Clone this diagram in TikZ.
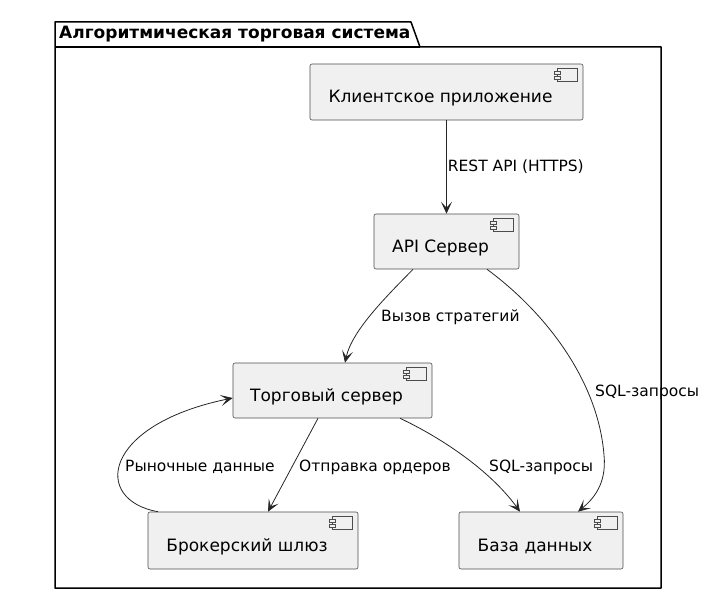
\documentclass[tikz,border=0pt]{standalone}
\usepackage{fontspec}
\setmainfont{DejaVu Sans}
\usetikzlibrary{arrows.meta}

\begin{document}
\begin{tikzpicture}[x=1pt, y=-1pt,
    comp/.style={draw=black!70, fill=black!6, line width=0.6pt, rounded corners=2pt,
        font=\fontsize{17}{19}\selectfont, text height=22pt, text depth=0pt,
        execute at end node=\hspace*{12pt}},
    flow/.style={draw=black!85, line width=0.8pt, -{Stealth[length=12pt, width=11pt, inset=6pt]}},
    lbl/.style={font=\fontsize{15.5}{17}\selectfont, inner sep=1pt}]
    \useasboundingbox (0,0) rectangle (726,607);

    % Package frame
    \draw[line width=1.5pt, line join=round] (55,588) -- (55,22) -- (411,22) -- (420,47)
        -- (661,47) -- (661,588) -- cycle;
    \draw[line width=1.2pt] (55,47) -- (420,47);
    \node[anchor=west, inner sep=0pt, font=\bfseries\fontsize{17}{19}\selectfont] (pkgtitle)
        at (59,34.5) {Алгоритмическая торговая система};

    % Components
    \node[comp, minimum width=273pt, minimum height=56pt] (client) at (446.5,92) {Клиентское приложение};
    \node[comp, minimum width=145pt, minimum height=55pt] (api) at (446.5,241.5) {API Сервер};
    \node[comp, minimum width=199pt, minimum height=55pt] (trade) at (332.5,390.5) {Торговый сервер};
    \node[comp, minimum width=210pt, minimum height=57pt] (broker) at (253,540.5) {Брокерский шлюз};
    \node[comp, minimum width=164pt, minimum height=57pt] (db) at (541,540.5) {База данных};

    % Component icons
    \foreach \n in {client,api,trade,broker,db} {
        \begin{scope}[shift={(\n.north east)}, draw=black!70, line width=0.5pt]
            \draw[fill=black!6] (-26,5) rectangle (-6,18);
            \draw[fill=black!6] (-29,7.5) rectangle (-23,10.5);
            \draw[fill=black!6] (-29,12.5) rectangle (-23,15.5);
        \end{scope}
    }

    % Connectors
    \draw[flow] (client) -- (api) node[lbl, midway, anchor=west] {REST API (HTTPS)};

    \draw[flow] ([xshift=-33.5pt]api.south) .. controls (388,295) and (352,330) .. ([xshift=12.5pt]trade.north);
    \node[lbl, anchor=west] (lblcall) at (380,317) {Вызов стратегий};

    \draw[flow] ([xshift=40.5pt]api.south) .. controls (545,312) and (598,380) .. (604,455)
        .. controls (607,485) and (592,500) .. ([xshift=37pt]db.north);
    \node[lbl, anchor=west] (lblsqla) at (594,392) {SQL-запросы};

    \draw[flow] ([xshift=-14.5pt]trade.south) -- ([xshift=15pt]broker.north);
    \node[lbl, anchor=west] (lblorder) at (298,467) {Отправка ордеров};

    \draw[flow] ([xshift=67.5pt]trade.south) .. controls (440,437) and (490,470) .. ([xshift=-21pt]db.north);
    \node[lbl, anchor=west] (lblsqlb) at (488,467) {SQL-запросы};

    \draw[flow] ([xshift=-95pt]broker.north) .. controls (92,500) and (102,425) .. (trade.west |- 0,398);
    \node[lbl, anchor=west] (lblmarket) at (124,467) {Рыночные данные};
\end{tikzpicture}
\end{document}
